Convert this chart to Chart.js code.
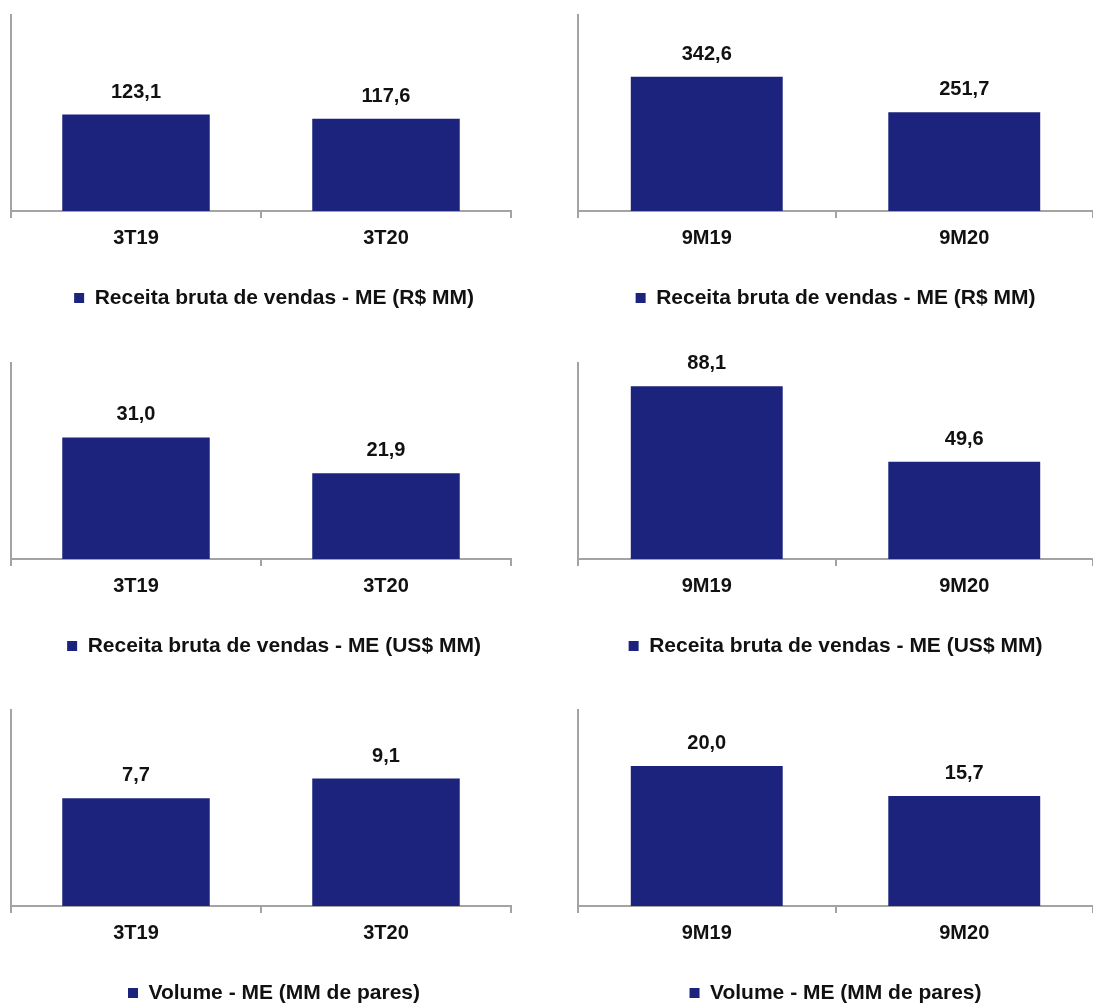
<!DOCTYPE html>
<html lang="pt">
<head>
  <meta charset="UTF-8" />
  <title>Mercado externo</title>
  <script src="https://cdn.jsdelivr.net/npm/chart.js"></script>
  <style>
    body {
      margin: 0;
      background: #fff;
      overflow: hidden;
      width: 1093px;
      height: 1006px;
      position: relative;
    }
    .panel { position: absolute; }
    .panel canvas { display: block; }
  </style>
</head>
<body>
  <div class="panel" style="left:0;top:0"><canvas id="c1" width="546" height="348"></canvas></div>
  <div class="panel" style="left:560px;top:0"><canvas id="c2" width="533" height="348"></canvas></div>
  <div class="panel" style="left:0;top:348px"><canvas id="c3" width="546" height="348"></canvas></div>
  <div class="panel" style="left:560px;top:348px"><canvas id="c4" width="533" height="348"></canvas></div>
  <div class="panel" style="left:0;top:695px"><canvas id="c5" width="546" height="348"></canvas></div>
  <div class="panel" style="left:560px;top:695px"><canvas id="c6" width="533" height="348"></canvas></div>

  <script>
    const quarters = ['3T19', '3T20'];
    const nineMonths = ['9M19', '9M20'];

    const receitaRealQuarter = [123.1, 117.6];
    const receitaRealNineMonths = [342.6, 251.7];
    const receitaDollarQuarter = [31.0, 21.9];
    const receitaDollarNineMonths = [88.1, 49.6];
    const volumeQuarter = [7.7, 9.1];
    const volumeNineMonths = [20.0, 15.7];

    const labelReal = 'Receita bruta de vendas - ME (R$ MM)';
    const labelDollar = 'Receita bruta de vendas - ME (US$ MM)';
    const labelVolume = 'Volume - ME (MM de pares)';

    const NAVY = '#1c237c';
    const AXIS = '#a3a3a3';
    const FONT = "'Liberation Sans', Arial, sans-serif";

    // numbers above the bars, brazilian decimal comma
    const valueLabels = {
      id: 'valueLabels',
      afterDatasetsDraw(chart) {
        const ctx = chart.ctx;
        const ds = chart.data.datasets[0];
        const meta = chart.getDatasetMeta(0);
        ctx.save();
        ctx.font = 'bold 20px ' + FONT;
        ctx.fillStyle = '#111';
        ctx.textAlign = 'center';
        ctx.textBaseline = 'middle';
        meta.data.forEach((bar, i) => {
          const txt = ds.data[i].toFixed(1).replace('.', ',');
          ctx.fillText(txt, bar.x, bar.y - 22.5);
        });
        ctx.restore();
      }
    };

    function makePanel(id, labels, values, seriesLabel, yMax, side) {
      const left = side === 'left';
      new Chart(document.getElementById(id), {
        type: 'bar',
        data: {
          labels: labels,
          datasets: [{
            label: seriesLabel,
            data: values,
            backgroundColor: NAVY,
            borderWidth: 0,
            categoryPercentage: 1,
            barPercentage: 0.59
          }]
        },
        options: {
          responsive: false,
          animation: false,
          events: [],
          layout: {
            padding: { top: 15, bottom: 29.5, left: left ? 11 : 18, right: left ? 9 : 0 }
          },
          plugins: {
            legend: {
              position: 'bottom',
              labels: {
                boxWidth: 10,
                boxHeight: 10,
                padding: 10,
                color: '#111',
                font: { family: FONT, size: 21, weight: 'bold' }
              }
            },
            tooltip: { enabled: false },
            title: { display: false }
          },
          scales: {
            x: {
              grid: {
                display: true,
                offset: true,
                drawOnChartArea: false,
                drawTicks: true,
                tickLength: 7,
                color: AXIS,
                lineWidth: 2
              },
              border: { display: true, color: AXIS, width: 2 },
              ticks: {
                padding: 8,
                color: '#111',
                font: { family: FONT, size: 20, weight: 'bold' }
              },
              afterFit(scale) { scale.height = 66.5; }
            },
            y: {
              min: 0,
              max: yMax,
              grid: { display: false, drawTicks: false },
              border: { display: true, color: AXIS, width: 2 },
              ticks: { display: false }
            },
            // spacer so the legend sits centred like the original
            pad: {
              type: 'linear',
              position: 'right',
              display: left,
              grid: { display: false, drawTicks: false },
              border: { display: false },
              ticks: { display: false },
              afterFit(scale) { scale.width = left ? 26 : 0; }
            }
          }
        },
        plugins: [valueLabels]
      });
    }

    makePanel('c1', quarters, receitaRealQuarter, labelReal, 250, 'left');
    makePanel('c2', nineMonths, receitaRealNineMonths, labelReal, 500, 'right');
    makePanel('c3', quarters, receitaDollarQuarter, labelDollar, 50, 'left');
    makePanel('c4', nineMonths, receitaDollarNineMonths, labelDollar, 100, 'right');
    makePanel('c5', quarters, volumeQuarter, labelVolume, 14, 'left');
    makePanel('c6', nineMonths, volumeNineMonths, labelVolume, 28, 'right');
  </script>
</body>
</html>
